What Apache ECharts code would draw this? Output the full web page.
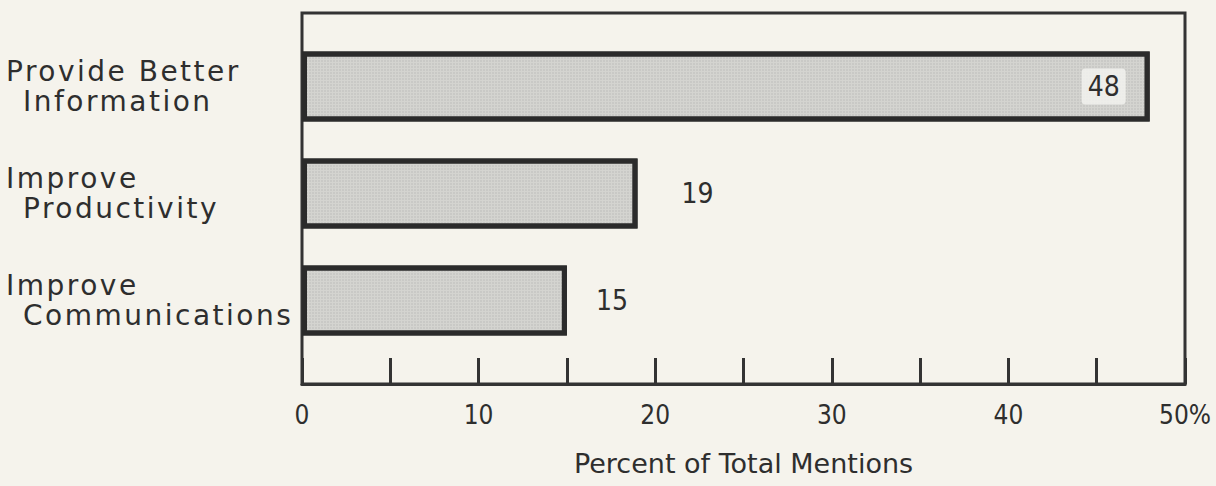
<!DOCTYPE html>
<html>
<head>
<meta charset="utf-8">
<script src="https://cdn.jsdelivr.net/npm/echarts@6/dist/echarts.min.js"></script>
<style>
  html, body { margin: 0; padding: 0; background: #f5f3ec; }
  #chart { width: 1216px; height: 486px; }
  /* wide tracking for the category captions */
  #chart text[style*="Verdana"] { letter-spacing: 2.5px; }
</style>
</head>
<body>
<div id="chart"></div>
<script>
// Categories (two-line captions), values in percent, and the x-axis tick labels
const categories = [
  'Provide Better\nInformation',
  'Improve\nProductivity',
  'Improve\nCommunications'
];
const mentions = [48, 19, 15];
const tickLabels = ['0', '10', '20', '30', '40', '50%'];
const axisTitle = 'Percent of Total Mentions';

const ink = '#2e2e2e';
const captionFont = "'DejaVu Sans', Verdana";
const digitFont = "'DejaVu Sans Condensed', 'Liberation Sans Narrow', 'Liberation Sans'";

// per-bar value label placement
const labelStyles = [
  { position: 'insideRight', distance: 24, backgroundColor: 'rgba(242,242,238,0.85)', padding: [4, 6], borderRadius: 4 },
  { position: 'right', distance: 44 },
  { position: 'right', distance: 29 }
];

const chart = echarts.init(document.getElementById('chart'), null, { renderer: 'svg' });

chart.setOption({
  animation: false,
  backgroundColor: '#f5f3ec',
  grid: [
    { left: 302, right: 31, top: 13, bottom: 102, show: true, borderColor: '#333', borderWidth: 3, backgroundColor: 'transparent' },
    { left: 302, right: 31, top: 33, bottom: 132 }
  ],
  xAxis: [
    {
      gridIndex: 0, type: 'value', min: 0, max: 50, interval: 5,
      axisLine: { show: true, lineStyle: { color: '#333', width: 3 } },
      axisTick: { show: true, inside: true, length: 26, lineStyle: { color: '#333', width: 3 } },
      splitLine: { show: false },
      axisLabel: {
        margin: 18, color: ink, fontFamily: digitFont, fontSize: 26,
        formatter: v => (v % 10 === 0 ? tickLabels[v / 10] : '')
      },
      name: axisTitle, nameLocation: 'middle', nameGap: 66,
      nameTextStyle: { color: ink, fontFamily: "'DejaVu Sans'", fontSize: 27 }
    },
    { gridIndex: 1, type: 'value', min: 0, max: 50, show: false }
  ],
  yAxis: [
    { gridIndex: 0, type: 'value', min: 0, max: 1, show: false },
    {
      gridIndex: 1, type: 'category', data: categories, inverse: true,
      axisLine: { show: false }, axisTick: { show: false }, splitLine: { show: false },
      axisLabel: {
        align: 'left', margin: 296,
        formatter: v => {
          const [first, second] = v.split('\n');
          return '{a|' + first + '}\n{b|' + second + '}';
        },
        rich: {
          a: { color: ink, fontFamily: captionFont, fontSize: 28, lineHeight: 30 },
          b: { color: ink, fontFamily: captionFont, fontSize: 28, lineHeight: 30, padding: [0, 0, 0, 17] }
        }
      }
    }
  ],
  series: [{
    type: 'bar',
    xAxisIndex: 1, yAxisIndex: 1,
    barWidth: 70,
    silent: true,
    itemStyle: {
      color: '#d4d4d0',
      borderColor: '#2b2b2b',
      borderWidth: 5,
      decal: {
        symbol: 'rect', symbolSize: 0.55,
        color: 'rgba(95,95,95,0.35)',
        dashArrayX: [2, 1], dashArrayY: [2, 1], rotation: 0
      }
    },
    label: {
      show: true, color: ink, fontFamily: digitFont, fontSize: 28
    },
    data: mentions.map((v, i) => ({ value: v, label: labelStyles[i] }))
  }]
});
</script>
</body>
</html>
